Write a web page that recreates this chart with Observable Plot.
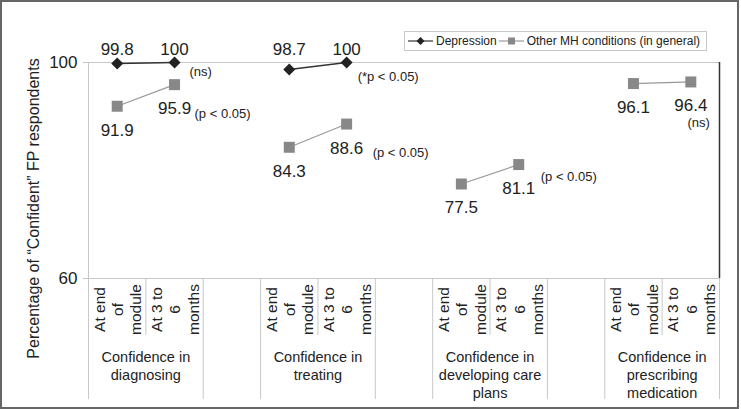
<!DOCTYPE html>
<html>
<head>
<meta charset="utf-8">
<script src="https://cdn.jsdelivr.net/npm/d3@7"></script>
<script src="https://cdn.jsdelivr.net/npm/@observablehq/plot@0.6"></script>
<style>
  html, body { margin: 0; padding: 0; background: #fff; }
  #wrap { position: relative; width: 741px; height: 409px; overflow: hidden; font-family: "Liberation Sans", Arial, sans-serif; color: #222; }
  #frame { position: absolute; left: 0; top: 0; width: 739px; height: 409px; border: 2px solid #666; box-sizing: border-box; pointer-events: none; }
  #legend { position: absolute; left: 404px; top: 31px; width: 303px; height: 20px; border: 1px solid #c8c8c8; box-sizing: border-box; display: flex; align-items: center; font-size: 12px; white-space: nowrap; padding-left: 3px; background: #fff; }
  #legend svg { display: block; margin-right: 3px; }
  #legend span { margin-right: 2px; }
</style>
</head>
<body>
<div id="wrap">
  <div id="chart"></div>
  <div id="legend"></div>
  <div id="frame"></div>
</div>
<script>
// ---- data ----
const groups = ["Confidence in\ndiagnosing", "Confidence in\ntreating", "Confidence in\ndeveloping care\nplans", "Confidence in\nprescribing\nmedication"];
const timepoints = ["At end\nof\nmodule", "At 3 to\n6\nmonths"];
const seriesNames = ["Depression", "Other MH conditions (in general)"];
// values per group, [end of module, 3 to 6 months]
const depressionValues = [[99.8, 100], [98.7, 100], null, null];
const otherMHValues = [[91.9, 95.9], [84.3, 88.6], [77.5, 81.1], [96.1, 96.4]];
const yTicks = [60, 100];
const yTitle = "Percentage of \u201cConfident\u201d FP respondents";
// significance notes, attached to the 3-6 months point of a group/series
const noteTexts = ["(ns)", "(p < 0.05)", "(*p < 0.05)", "(p < 0.05)", "(p < 0.05)", "(ns)"];
const noteGroups = [0, 0, 1, 1, 2, 3];
const noteSeries = [0, 1, 0, 1, 1, 1];

// ---- derived tables ----
const slotOf = (g, t) => g * 3 + t + 0.5;   // two timepoints + one gap column per group
const rows = [];
[depressionValues, otherMHValues].forEach((vals, s) => {
  vals.forEach((pair, g) => {
    if (!pair) return;
    pair.forEach((v, t) => rows.push({series: seriesNames[s], s, g, t, slot: slotOf(g, t), value: v}));
  });
});
const dep = rows.filter(d => d.s === 0);
const oth = rows.filter(d => d.s === 1);
const subRows = [];
groups.forEach((grp, g) => timepoints.forEach((tp, t) => subRows.push({slot: slotOf(g, t), label: tp})));
const groupRows = groups.map((grp, g) => ({center: g * 3 + 1, label: grp}));
const fullSeps = groups.flatMap((grp, g) => [g * 3, g * 3 + 2]).concat([groups.length * 3 - 1]);
const shortSeps = groups.map((grp, g) => g * 3 + 1);
const notes = noteTexts.map((txt, i) => Object.assign({}, rows.find(r => r.g === noteGroups[i] && r.s === noteSeries[i] && r.t === 1), {note: txt}));
const nSlots = groups.length * 3 - 1;

// note offsets (style)
const noteStyle = [
  {dx: 15, dy: 9, textAnchor: "start"},
  {dx: 20, dy: 29, textAnchor: "start"},
  {dx: 11, dy: 14, textAnchor: "start"},
  {dx: 26, dy: 29, textAnchor: "start"},
  {dx: 22, dy: 12.5, textAnchor: "start"},
  {dx: 19, dy: 41, textAnchor: "end"}
];

const grid = "#c8c8c8";
const chart = Plot.plot({
  width: 741,
  height: 409,
  marginLeft: 88,
  marginRight: 22,
  marginTop: 62,
  marginBottom: 131,
  x: {domain: [0, nSlots], axis: null},
  y: {domain: [yTicks[0], yTicks[yTicks.length - 1]], axis: null},
  style: {fontFamily: "'Liberation Sans', Arial, sans-serif", color: "#222", background: "transparent", overflow: "visible"},
  marks: [
    Plot.ruleY(yTicks, {stroke: grid}),
    Plot.axisY({ticks: yTicks, tickSize: 5, tickPadding: 6, fontSize: 17, stroke: grid, fill: "#222", label: null}),
    Plot.ruleX(fullSeps, {y1: yTicks[0], y2: yTicks[0], insetBottom: -121, stroke: grid}),
    Plot.ruleX(shortSeps, {y1: yTicks[0], y2: yTicks[0], insetBottom: -57, stroke: grid}),
    Plot.ruleX([0], {y1: yTicks[1], y2: yTicks[1], insetBottom: -337, stroke: grid}),
    Plot.ruleX([nSlots], {y1: yTicks[1], y2: yTicks[0], stroke: "#333", strokeWidth: 1.5}),
    Plot.line(oth, {x: "slot", y: "value", z: "g", stroke: "#999", strokeWidth: 1.2}),
    Plot.line(dep, {x: "slot", y: "value", z: "g", stroke: "#333", strokeWidth: 1.5}),
    Plot.dot(oth, {x: "slot", y: "value", symbol: "square", r: 6.2, fill: "#888", stroke: null}),
    Plot.dot(dep, {x: "slot", y: "value", symbol: "diamond2", r: 5.4, fill: "#222", stroke: null}),
    Plot.text(dep, {x: "slot", frameAnchor: "top", lineAnchor: "middle", dy: -13, text: d => String(d.value), fontSize: 17, fill: "#222"}),
    Plot.text(oth, {x: "slot", y: "value", dy: 24, text: d => String(d.value), fontSize: 17, fill: "#222"}),
    ...notes.map((n, i) => Plot.text([n], {x: "slot", y: "value", text: "note", fontSize: 13, fill: "#222", ...noteStyle[i]})),
    Plot.text(subRows, {x: "slot", frameAnchor: "bottom", dy: 31, text: "label", rotate: -90, fontSize: 15.5, lineHeight: 1.18, textAnchor: "middle", lineAnchor: "middle", fill: "#222"}),
    Plot.text(groupRows, {x: "center", frameAnchor: "bottom", dy: 71, text: "label", fontSize: 14.5, lineHeight: 1.24, lineAnchor: "top", textAnchor: "middle", fill: "#222"}),
    Plot.text([yTitle], {frameAnchor: "left", dx: -55, dy: 38, text: d => d, rotate: -90, fontSize: 16, textAnchor: "middle", lineAnchor: "middle", fill: "#222"})
  ]
});
document.getElementById("chart").appendChild(chart);

// ---- legend ----
const legend = document.getElementById("legend");
const sym = (kind) => {
  const sw = kind === 0 ? '<line x1="0" y1="7" x2="25" y2="7" stroke="#333" stroke-width="1.2"/><path d="M12.5,3 L16.5,7 L12.5,11 L8.5,7 Z" fill="#222"/>'
                        : '<line x1="0" y1="7" x2="25" y2="7" stroke="#999" stroke-width="1.2"/><rect x="9" y="3.5" width="7" height="7" fill="#888"/>';
  return `<svg width="25" height="14">${sw}</svg>`;
};
legend.innerHTML = seriesNames.map((n, i) => sym(i) + `<span>${n}</span>`).join("");
</script>
</body>
</html>
